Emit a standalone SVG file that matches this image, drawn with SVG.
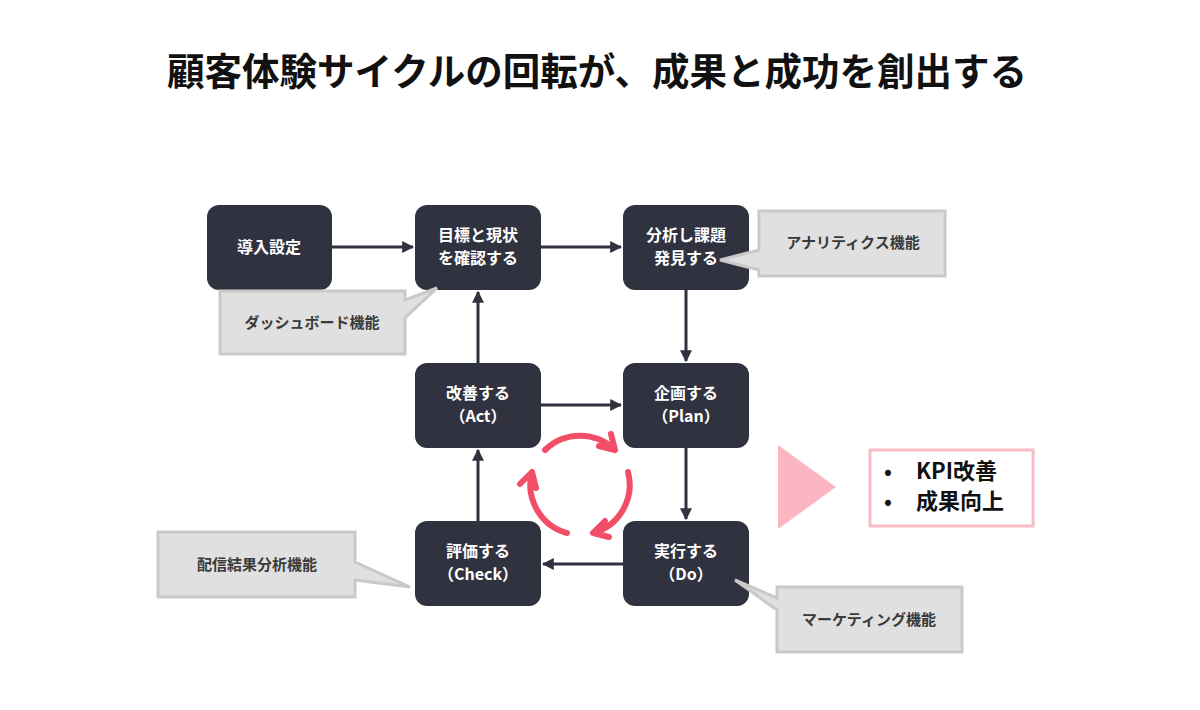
<svg xmlns="http://www.w3.org/2000/svg" width="1200" height="710" viewBox="0 0 1200 710">
<defs>
<style>
text{font-family:"Noto Sans CJK JP","Noto Sans",sans-serif;font-weight:bold}
.n{fill:#30333f}
.nt{fill:#fff;font-size:16px;text-anchor:middle}
.c{fill:#e0e0e0;stroke:#c9c9c9;stroke-width:3}
.ct{fill:#3a3a3a;font-size:15px;text-anchor:middle}
.e{stroke:#30333f;stroke-width:3;fill:none}
.r{stroke:#f24e68;stroke-width:6;fill:none;stroke-linecap:round;stroke-linejoin:round}
</style>
<marker id="a" viewBox="0 0 10 10" refX="9" refY="5" markerWidth="4" markerHeight="4" orient="auto"><path d="M0,0L10,5L0,10z" fill="#30333f"/></marker>
</defs>
<rect width="1200" height="710" fill="#fff"/>
<text x="597" y="85" font-size="37.5" text-anchor="middle" fill="#111">顧客体験サイクルの回転が、成果と成功を創出する</text>
<g id="connectors">
<line class="e" x1="332" y1="247" x2="413" y2="247" marker-end="url(#a)"/>
<line class="e" x1="541" y1="247" x2="621" y2="247" marker-end="url(#a)"/>
<line class="e" x1="686" y1="290" x2="686" y2="361" marker-end="url(#a)"/>
<line class="e" x1="541" y1="405" x2="621" y2="405" marker-end="url(#a)"/>
<line class="e" x1="686" y1="448" x2="686" y2="519" marker-end="url(#a)"/>
<line class="e" x1="623" y1="564" x2="543" y2="564" marker-end="url(#a)"/>
<line class="e" x1="478" y1="521" x2="478" y2="450" marker-end="url(#a)"/>
<line class="e" x1="478" y1="363" x2="478" y2="292" marker-end="url(#a)"/>
</g>
<g id="cycle">
<path class="r" d="M545,450 A50,50 0 0 1 615,450 M599,446 L615,450 L611,434"/>
<path class="r" d="M628,472 A50,50 0 0 1 593,533 M605,521 L593,533 L609,537"/>
<path class="r" d="M567,533 A50,50 0 0 1 532,472 M536,488 L532,472 L520,484"/>
</g>
<g id="n1"><rect class="n" x="207" y="205" width="125" height="85" rx="12"/><text class="nt" x="269" y="253">導入設定</text></g>
<g id="n2"><rect class="n" x="415" y="205" width="126" height="85" rx="12"/><text class="nt" x="478" y="241">目標と現状</text><text class="nt" x="478" y="264">を確認する</text></g>
<g id="n3"><rect class="n" x="623" y="205" width="126" height="85" rx="12"/><text class="nt" x="686" y="241">分析し課題</text><text class="nt" x="686" y="264">発見する</text></g>
<g id="n4"><rect class="n" x="415" y="363" width="126" height="85" rx="12"/><text class="nt" x="478" y="399">改善する</text><text class="nt" x="478" y="422">（Act）</text></g>
<g id="n5"><rect class="n" x="623" y="363" width="126" height="85" rx="12"/><text class="nt" x="686" y="399">企画する</text><text class="nt" x="686" y="422">（Plan）</text></g>
<g id="n6"><rect class="n" x="415" y="521" width="126" height="85" rx="12"/><text class="nt" x="478" y="557">評価する</text><text class="nt" x="478" y="580">（Check）</text></g>
<g id="n7"><rect class="n" x="623" y="521" width="126" height="85" rx="12"/><text class="nt" x="686" y="557">実行する</text><text class="nt" x="686" y="580">（Do）</text></g>
<g id="callout-dashboard"><path class="c" d="M220,291 H405 V300 L437,288 L405,318 V354 H220 Z"/><text class="ct" x="312" y="328">ダッシュボード機能</text></g>
<g id="callout-analytics"><path class="c" d="M759,211 H945 V276 H759 V270 L720,260 L759,250 Z"/><text class="ct" x="853" y="248">アナリティクス機能</text></g>
<g id="callout-delivery"><path class="c" d="M158,532 H355 V562 L410,587 L355,580 V597 H158 Z"/><text class="ct" x="257" y="570">配信結果分析機能</text></g>
<g id="callout-marketing"><path class="c" d="M777,587 H962 V652 H777 V610 L735,580 L777,598 Z"/><text class="ct" x="869" y="625">マーケティング機能</text></g>
<g id="result">
<path d="M778,445 L836,487 L778,529 Z" fill="#fbb6c1"/>
<rect x="870" y="450" width="163" height="76" fill="#fff" stroke="#f9bcc7" stroke-width="3"/>
<text x="884" y="479" font-size="21" fill="#111">•</text><text x="916" y="479" font-size="22" fill="#111">KPI改善</text>
<text x="884" y="509" font-size="21" fill="#111">•</text><text x="916" y="509" font-size="22" fill="#111">成果向上</text>
</g>
</svg>
